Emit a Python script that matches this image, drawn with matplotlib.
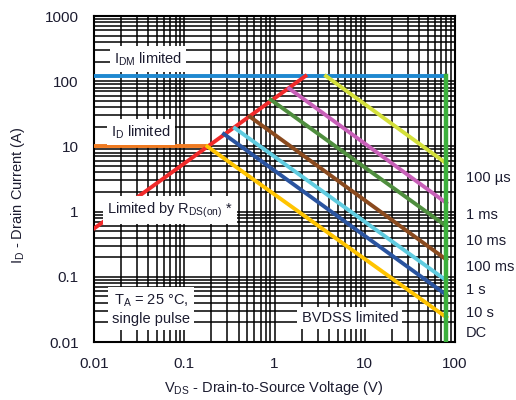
import numpy as np
import matplotlib
matplotlib.use("Agg")
from matplotlib import pyplot as plt

plt.rcParams['font.family'] = ['Liberation Sans', 'DejaVu Sans']
plt.rcParams['mathtext.fontset'] = 'custom'
plt.rcParams['mathtext.rm'] = 'Liberation Sans'
plt.rcParams['mathtext.it'] = 'Liberation Sans'

TEXT = '#1c1c30'

# limits of the safe operating area
bvdss = 80.0        # V
idm = 120.0         # A, pulsed
id_cont = 10.0      # A, continuous
rds_v = [0.01, 2.2]     # R_DS(on) limit line
rds_i = [0.55, 120.0]

# pulse curves: start point on the limit lines, end current at BVDSS
pulse_labels = ['100 µs', '1 ms', '10 ms', '100 ms', '1 s', '10 s', 'DC']
pulse_v_start = [3.72, 1.46, 0.91, 0.535, 0.365, 0.275, 0.18]
pulse_i_start = [120.0, 77.0, 52.0, 28.5, 19.0, 15.5, 10.0]
pulse_i_end = [5.5, 1.36, 0.6, 0.184, 0.088, 0.053, 0.024]
pulse_colors = ['#d4e03a', '#c860b8', '#4f8e3e', '#8a4a1e', '#60cce0', '#2a54a0', '#ffc400']
label_y = [178, 215, 241, 267, 290, 313, 333]   # pixel rows of the right-hand labels

W, H = 516, 400
fig = plt.figure(figsize=(W / 100, H / 100), dpi=100)
ax = fig.add_axes([94 / W, 1 - 342 / H, (455 - 94) / W, (342 - 16) / H])
ax.set_xscale('log')
ax.set_yscale('log')
ax.set_xlim(0.01, 100)
ax.set_ylim(0.01, 1000)

ax.grid(which='both', color='black', lw=1.1, zorder=0)
for s in ax.spines.values():
    s.set_linewidth(1.5)
ax.tick_params(which='both', length=0, labelsize=11, labelcolor=TEXT)
ax.tick_params(axis='x', pad=11)
ax.tick_params(axis='y', pad=11)
ax.set_xticks([0.01, 0.1, 1, 10, 100])
ax.set_xticklabels(['0.01', '0.1', '1', '10', '100'])
ax.set_yticks([0.01, 0.1, 1, 10, 100, 1000])
ax.set_yticklabels(['0.01', '0.1', '1', '10', '100', '1000'])

lw = 2.8
ax.plot([0.01, bvdss], [idm, idm], color='#1e88d0', lw=lw, solid_capstyle='butt', zorder=3)
ax.plot([0.01, pulse_v_start[-1]], [id_cont, id_cont], color='#f07a20', lw=lw,
        solid_capstyle='butt', zorder=3)
ax.plot(rds_v, rds_i, color='#f02a2a', lw=lw, zorder=3)
for v0, i0, i1, c in zip(pulse_v_start, pulse_i_start, pulse_i_end, pulse_colors):
    ax.plot([v0, bvdss], [i0, i1], color=c, lw=lw, zorder=3)
ax.plot([bvdss, bvdss], [idm, 0.01], color='#3cb03c', lw=lw + 0.4, zorder=4)

box = dict(fc='white', ec='none', pad=3)
def boxed(x, y, s, **kw):
    ax.text(x, y, s, transform=ax.transAxes, ha='center', va='center', fontsize=10.5,
            color=TEXT, bbox=box, zorder=5, **kw)

boxed(0.150, 0.868, r'I$_{\mathrm{DM}}$ limited')
boxed(0.130, 0.644, r'I$_{\mathrm{D}}$ limited')
boxed(0.211, 0.405, r'Limited by R$_{\mathrm{DS(on)}}$ *')
boxed(0.158, 0.101, r'T$_{\mathrm{A}}$ = 25 °C,' + '\nsingle pulse', linespacing=1.3)
boxed(0.709, 0.074, 'BVDSS limited')

for lab, y in zip(pulse_labels, label_y):
    fig.text(466 / W, 1 - y / H, lab, ha='left', va='center', fontsize=10.5, color=TEXT)

fig.text(274 / W, 1 - 388 / H, r'V$_{\mathrm{DS}}$ - Drain-to-Source Voltage (V)',
         ha='center', va='center', fontsize=10.5, color=TEXT)
fig.text(18 / W, 1 - 195 / H, r'I$_{\mathrm{D}}$ - Drain Current (A)', rotation=90,
         ha='center', va='center', fontsize=10.5, color=TEXT)

fig.savefig('out.png', dpi=100)
